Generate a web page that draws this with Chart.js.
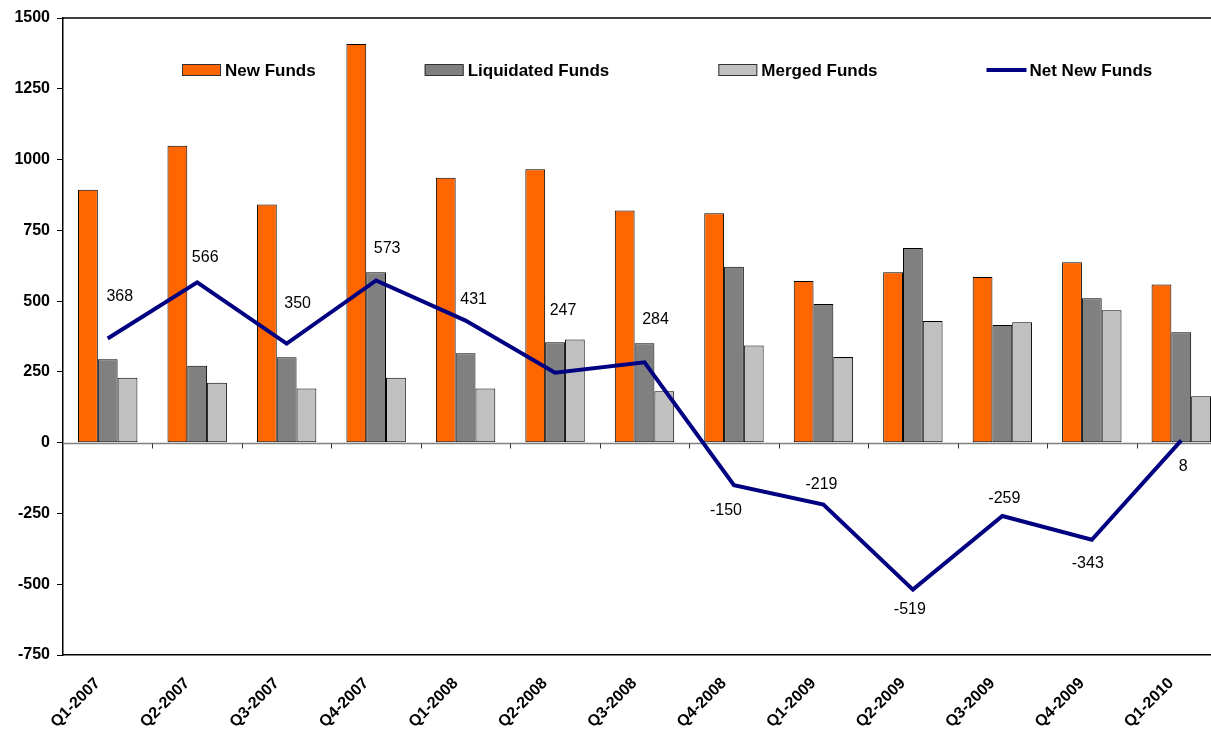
<!DOCTYPE html>
<html>
<head>
<meta charset="utf-8">
<title>New, Liquidated and Merged Funds</title>
<script src="https://cdn.jsdelivr.net/npm/chart.js@4.4.1/dist/chart.umd.min.js"></script>
<style>
  html, body { margin: 0; padding: 0; background: #fff; overflow: hidden; }
  #wrap { position: relative; width: 1240px; height: 734px; }
</style>
</head>
<body>
<div id="wrap"><canvas id="fundsChart"></canvas></div>
<script>
// data
const quarters = ['Q1-2007', 'Q2-2007', 'Q3-2007', 'Q4-2007', 'Q1-2008', 'Q2-2008', 'Q3-2008',
                  'Q4-2008', 'Q1-2009', 'Q2-2009', 'Q3-2009', 'Q4-2009', 'Q1-2010'];
const newFunds        = [893, 1049, 841, 1408, 936, 966, 820, 810, 571, 602, 585, 637, 559];
const liquidatedFunds = [295, 272, 302, 602, 316, 355, 351, 621, 490, 688, 416, 510, 390];
const mergedFunds     = [229, 212, 191, 229, 191, 364, 182, 343, 303, 430, 425, 468, 164];
const netNewFunds     = [368, 566, 350, 573, 431, 247, 284, -150, -219, -519, -259, -343, 8];
const yMin = -750, yMax = 1500, yStep = 250;

// where each net label sits relative to its point (px)
const netLabelOffset = [[12, -42], [8, -25], [11, -40], [11, -32], [8, -21], [8, -62], [11, -43],
                        [-8, 25], [-2, -20], [-3, 20], [2, -17], [-4, 24], [2, 26]];

const FONT = 'Arial, "Liberation Sans", sans-serif';
const colors = { newF: '#FF6600', liq: '#808080', merged: '#C0C0C0', net: '#000080' };

// plot frame: black top line, grey category axis at zero with boundary ticks
const framePlugin = {
    id: 'framePlugin',
    beforeDatasetsDraw(chart) {
        const { ctx, chartArea, scales } = chart;
        const y0 = Math.round(scales.y.getPixelForValue(0)) + 0.5;
        const n = quarters.length;
        const step = (chartArea.right - chartArea.left) / n;
        ctx.save();
        ctx.strokeStyle = '#808080';
        ctx.lineWidth = 1.5;
        ctx.beginPath();
        ctx.moveTo(chartArea.left, y0);
        ctx.lineTo(chartArea.right, y0);
        ctx.stroke();
        ctx.strokeStyle = '#333';
        ctx.lineWidth = 1;
        for (let i = 1; i < n; i++) {
            const x = Math.round(chartArea.left + i * step) + 0.5;
            ctx.beginPath();
            ctx.moveTo(x, y0);
            ctx.lineTo(x, y0 + 5);
            ctx.stroke();
        }
        ctx.strokeStyle = '#000';
        ctx.lineWidth = 1.5;
        ctx.beginPath();
        ctx.moveTo(chartArea.left, chartArea.top);
        ctx.lineTo(chartArea.right, chartArea.top);
        ctx.stroke();
        ctx.restore();
    }
};

// values next to the net line
const netLabels = {
    id: 'netLabels',
    afterDatasetsDraw(chart) {
        const meta = chart.getDatasetMeta(3);
        const ctx = chart.ctx;
        ctx.save();
        ctx.font = '16px ' + FONT;
        ctx.fillStyle = '#000';
        ctx.textAlign = 'center';
        ctx.textBaseline = 'middle';
        meta.data.forEach((pt, i) => {
            const [dx, dy] = netLabelOffset[i];
            ctx.fillText(String(netNewFunds[i]), pt.x + dx, pt.y + dy);
        });
        ctx.restore();
    }
};

// legend drawn inside the plot, one row
const insideLegend = {
    id: 'insideLegend',
    afterDraw(chart) {
        const { ctx, chartArea } = chart;
        const y = chartArea.top + 52;
        let x = chartArea.left + 119;
        ctx.save();
        ctx.font = 'bold 17px ' + FONT;
        ctx.textBaseline = 'middle';
        ctx.textAlign = 'left';
        chart.data.datasets.forEach(ds => {
            if (ds.type === 'line') {
                ctx.strokeStyle = ds.borderColor;
                ctx.lineWidth = 4;
                ctx.beginPath();
                ctx.moveTo(x, y);
                ctx.lineTo(x + 40, y);
                ctx.stroke();
            } else {
                ctx.fillStyle = ds.backgroundColor;
                ctx.fillRect(x, y - 5.5, 39, 11);
                ctx.strokeStyle = '#333';
                ctx.lineWidth = 1;
                ctx.strokeRect(x + 0.5, y - 5.5, 38, 11);
            }
            x += 43;
            ctx.fillStyle = '#000';
            ctx.fillText(ds.label, x, y + 1);
            x += ctx.measureText(ds.label).width + 109;
        });
        ctx.restore();
    }
};

const barDefaults = {
    borderColor: '#000',
    borderWidth: 1,
    borderSkipped: false,
    barPercentage: 1.0,
    categoryPercentage: 0.664,
    order: 1
};

new Chart(document.getElementById('fundsChart').getContext('2d'), {
    type: 'bar',
    data: {
        labels: quarters,
        datasets: [
            Object.assign({ label: 'New Funds', data: newFunds, backgroundColor: colors.newF }, barDefaults),
            Object.assign({ label: 'Liquidated Funds', data: liquidatedFunds, backgroundColor: colors.liq }, barDefaults),
            Object.assign({ label: 'Merged Funds', data: mergedFunds, backgroundColor: colors.merged }, barDefaults),
            {
                type: 'line',
                label: 'Net New Funds',
                data: netNewFunds,
                borderColor: colors.net,
                backgroundColor: colors.net,
                borderWidth: 4,
                pointRadius: 0,
                tension: 0,
                order: 0
            }
        ]
    },
    options: {
        responsive: true,
        maintainAspectRatio: false,
        animation: false,
        layout: { padding: { top: 18, right: 14, left: 0, bottom: 0 } },
        plugins: {
            legend: { display: false },
            tooltip: { enabled: false }
        },
        scales: {
            x: {
                offset: true,
                grid: { display: false, drawTicks: false },
                border: { display: true, color: '#000', width: 1.5 },
                ticks: {
                    color: '#000',
                    font: { family: FONT, size: 16, weight: 'bold' },
                    minRotation: 45,
                    maxRotation: 45,
                    autoSkip: false,
                    padding: 19,
                    labelOffset: -10
                },
                afterFit(scale) { scale.height = 79; }
            },
            y: {
                min: yMin,
                max: yMax,
                grid: { drawOnChartArea: false, drawTicks: true, tickLength: 6, color: '#000', lineWidth: 1 },
                border: { display: true, color: '#000', width: 1.5 },
                ticks: {
                    stepSize: yStep,
                    color: '#000',
                    padding: 7,
                    font: { family: FONT, size: 16, weight: 'bold' },
                    callback: value => String(value)
                },
                afterFit(scale) { scale.width = 63; }
            }
        }
    },
    plugins: [framePlugin, netLabels, insideLegend]
});
</script>
</body>
</html>
